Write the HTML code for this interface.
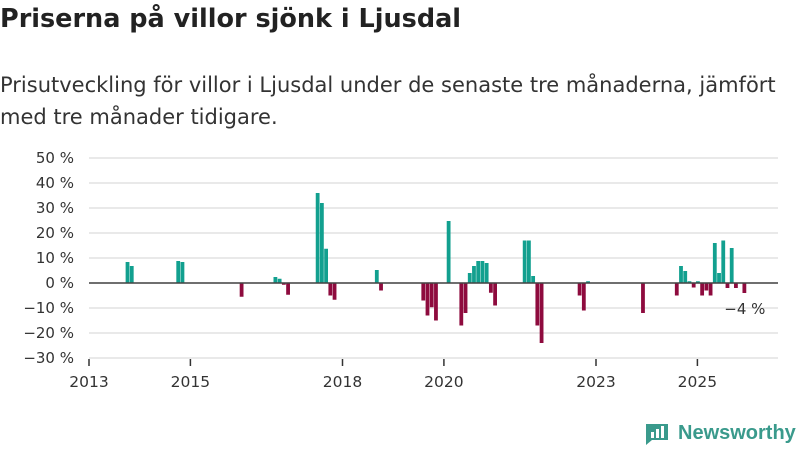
<!DOCTYPE html>
<html><head><meta charset="utf-8"><style>
body{margin:0;width:800px;height:450px;background:#fff;font-family:"DejaVu Sans","Liberation Sans",sans-serif;color:#222;overflow:hidden;position:relative}
h1{position:absolute;left:0;top:4px;margin:0;font-size:25.5px;font-weight:bold;white-space:nowrap}
p{position:absolute;left:0;top:69px;margin:0;font-size:21px;line-height:32px;color:#333;width:800px;white-space:nowrap}
svg{position:absolute;left:0;top:0}
</style></head><body>
<h1>Priserna på villor sjönk i Ljusdal</h1>
<p>Prisutveckling för villor i Ljusdal under de senaste tre månaderna, jämfört<br>med tre månader tidigare.</p>
<svg id="chart" width="800" height="450"></svg>
<div style="position:absolute;left:644px;top:420px;display:flex;align-items:center;gap:8px;color:#3a9a8c;font-size:20px;font-weight:bold;font-family:'Liberation Sans',sans-serif">
<svg width="26" height="26" viewBox="0 0 26 26" style="position:static"><path d="M2 4h22v16H8l-6 5z" fill="#3a9a8c"/><rect x="7" y="12" width="3" height="6" fill="#fff"/><rect x="12" y="9" width="3" height="9" fill="#fff"/><rect x="17" y="6" width="3" height="12" fill="#fff"/></svg>
<span>Newsworthy</span></div>
<script>
const months=[9,10,21,22,36,44,45,46,47,54,55,56,57,58,68,69,79,80,81,82,85,88,89,90,91,92,93,94,95,96,103,104,105,106,107,116,117,118,131,139,140,141,142,143,144,145,146,147,148,149,150,151,152,153,155];
const values=[8.4,6.8,8.8,8.4,-5.5,2.4,1.7,-0.7,-4.7,36,32,13.7,-5,-6.7,5.2,-3,-7,-13,-9.7,-15,24.8,-17,-12,4,6.8,8.8,8.8,8,-3.9,-9,17,17,2.8,-17,-24,-5,-11,0.7,-12,-5,6.8,4.8,0.7,-1.8,0.7,-5,-3,-5,16,4,17,-2,14,-2,-4];
const yTicks=[50,40,30,20,10,0,-10,-20,-30];
const xTickYears=[2013,2015,2018,2020,2023,2025];
const svg=document.getElementById('chart');
const NS='http://www.w3.org/2000/svg';
const X0=89,X1=778,PERM=50.7/12;
const x=m=>X0+m*PERM;
const y=v=>283-v*2.5;
function mk(t,a){const e=document.createElementNS(NS,t);for(const k in a)e.setAttribute(k,a[k]);svg.appendChild(e);return e;}
yTicks.forEach(v=>{
  const g=mk('line',{x1:X0,x2:X1,y1:y(v),y2:y(v),stroke:'#e2e2e2','stroke-width':1.5});
  
  
  const t=mk('text',{x:74,y:y(v)+5,'text-anchor':'end','font-size':15,fill:'#333'});
  t.textContent=(v<0?'−'+(-v):v)+' %';
  
  
});
xTickYears.forEach(yr=>{
  const xp=x((yr-2013)*12);
  const l=mk('line',{x1:xp,x2:xp,y1:359,y2:366,stroke:'#333','stroke-width':1.5});
  
  
  const t=mk('text',{x:xp,y:387,'text-anchor':'middle','font-size':15.5,fill:'#333'});
  t.textContent=yr;
  
  
});
months.forEach((m,i)=>{
  const v=values[i];
  const r=mk('rect',{x:x(m)-1.4,width:3.8,y:Math.min(y(v),y(0)),height:Math.abs(y(v)-y(0)),fill:v>=0?'#12a08f':'#8e0b3e'});
  
  
});
const z=mk('line',{x1:X0,x2:X1,y1:y(0),y2:y(0),stroke:'#444','stroke-width':1.5});


const lm=months[months.length-1],lv=values[values.length-1];
const lab=mk('text',{x:x(lm)+1,y:y(lv)+21,'text-anchor':'middle','font-size':15,fill:'#333'});
lab.textContent='−'+Math.abs(lv)+' %';


</script>
</body></html>
